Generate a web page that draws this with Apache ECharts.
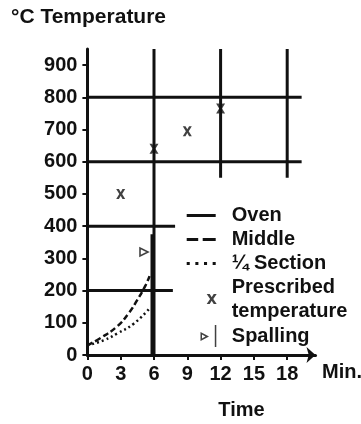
<!DOCTYPE html>
<html>
<head>
<meta charset="utf-8">
<script src="https://cdn.jsdelivr.net/npm/echarts@6/dist/echarts.min.js"></script>
<style>
  html, body { margin: 0; padding: 0; background: #fff; }
  #chart { width: 361px; height: 424px; }
</style>
</head>
<body>
<div id="chart"></div>
<script>
// Tick labels
const timeTicks = [0, 3, 6, 9, 12, 15, 18];
const tempTicks = [0, 100, 200, 300, 400, 500, 600, 700, 800, 900];

// Oven: vertical rise at ~6 min
const ovenTime = [5.82, 5.82];
const ovenTemp = [0, 375];

// Middle of the specimen (dashed)
const middleTime = [0, 1.15, 2.65, 3.7, 4.5, 5.25, 5.6];
const middleTemp = [30, 52, 88, 129, 171, 217, 245];

// Quarter section (dotted)
const quarterTime = [0, 1.5, 2.7, 4.2, 5.6];
const quarterTemp = [30, 46, 67, 98, 145];

// Prescribed temperature markers
const prescribedTime = [3, 6, 9, 12];
const prescribedTemp = [500, 640, 695, 765];

// Spalling event
const spallTime = [5.1];
const spallTemp = [320];

// Reference grid segments: [level, from, to]
const hRules = [[800, 0, 19.3], [600, 0, 19.3], [400, 0, 7.9], [200, 0, 7.7]];
const vRules = [[6, 0, 950], [12, 550, 950], [18, 550, 950]];

const INK = '#111';
const FONT = 'Liberation Sans';
const textBase = { fontFamily: FONT, fontWeight: 'bold', color: INK, fontSize: 20 };

const crossPath = 'path://M0,0 L3,0 L5,3.2 L7,0 L10,0 L6.6,5 L10,10 L7,10 L5,6.8 L3,10 L0,10 L3.4,5 Z';
// Hollow right-pointing triangle followed by a thin bar
const spallIcon = 'path://M0,7 L8.5,11.5 L0,16 Z M1.5,9.6 L1.5,13.4 L5,11.5 Z M14.3,0 L15.8,0 L15.8,22 L14.3,22 Z';
// Legend line samples: solid, dashed, dotted
const solidIcon = 'path://M0,0 L29,0 L29,3 L0,3 Z';
const dashIcon = 'path://M0,0 L11.5,0 L11.5,3 L0,3 Z M16,0 L29,0 L29,3 L16,3 Z';
const dotIcon = 'path://M0,0 L3,0 L3,3 L0,3 Z M8.5,0 L11.5,0 L11.5,3 L8.5,3 Z M17,0 L20,0 L20,3 L17,3 Z M25.5,0 L28.5,0 L28.5,3 L25.5,3 Z';

const ruleSeries = [];
hRules.forEach(([v, a, b]) => ruleSeries.push({
  type: 'line', silent: true, symbol: 'none', z: 1,
  lineStyle: { color: INK, width: 3 },
  data: [[a, v], [b, v]]
}));
vRules.forEach(([t, a, b]) => ruleSeries.push({
  type: 'line', silent: true, symbol: 'none', z: 1,
  lineStyle: { color: INK, width: 3 },
  data: [[t, a], [t, b]]
}));

const zip = (xs, ys) => xs.map((x, i) => [x, ys[i]]);

const chart = echarts.init(document.getElementById('chart'), null, { renderer: 'canvas' });
chart.setOption({
  animation: false,
  backgroundColor: '#fff',
  title: [
    { text: '°C Temperature', left: 11, top: 7, padding: 0,
      textStyle: Object.assign({}, textBase, { fontSize: 21 }) },
    { text: 'Min.', left: 322, top: 362, padding: 0, textStyle: textBase }
  ],
  grid: { left: 87.4, right: 45.5, top: 49, bottom: 69, containLabel: false, outerBoundsMode: 'none' },
  xAxis: {
    type: 'value', min: 0, max: 20.55,
    name: 'Time', nameLocation: 'middle', nameGap: 45,
    nameTextStyle: Object.assign({}, textBase, { padding: [0, 0, 0, 80] }),
    axisLine: { show: true, symbol: ['none', 'arrow'], symbolSize: [12, 9],
      lineStyle: { color: INK, width: 3 } },
    axisTick: { show: true, length: 5, customValues: timeTicks, lineStyle: { color: INK, width: 2 } },
    axisLabel: Object.assign({ customValues: timeTicks, margin: 9 }, textBase),
    splitLine: { show: false }
  },
  yAxis: {
    type: 'value', min: 0, max: 950,
    axisLine: { show: true, lineStyle: { color: INK, width: 3 } },
    axisTick: { show: true, length: 5, customValues: tempTicks, lineStyle: { color: INK, width: 2 } },
    axisLabel: Object.assign({ customValues: tempTicks, margin: 10 }, textBase),
    splitLine: { show: false }
  },
  legend: [
    {
      left: 186.7, top: 203.5, orient: 'vertical', padding: 0, itemGap: 0,
      itemWidth: 29, itemHeight: 10, selectedMode: false,
      textStyle: Object.assign({ lineHeight: 24, padding: [0, 0, 0, 11] }, textBase),
      data: [
        { name: 'Oven', icon: solidIcon, itemStyle: { color: INK } },
        { name: 'Middle', icon: dashIcon, itemStyle: { color: INK } },
        { name: '¼ Section', icon: dotIcon, itemStyle: { color: INK } }
      ]
    },
    {
      left: 206.7, top: 275, orient: 'vertical', padding: 0, itemGap: 0,
      itemWidth: 10, itemHeight: 10, selectedMode: false,
      textStyle: Object.assign({ lineHeight: 24, padding: [0, 0, 0, 10] }, textBase),
      formatter: () => 'Prescribed\ntemperature',
      data: [{ name: 'Prescribed temperature', icon: crossPath, itemStyle: { color: INK } }]
    },
    {
      left: 200.5, top: 324, orient: 'vertical', padding: 0, itemGap: 0,
      itemWidth: 15.8, itemHeight: 22, selectedMode: false,
      textStyle: Object.assign({ lineHeight: 24, padding: [0, 0, 0, 10.5] }, textBase),
      data: [{ name: 'Spalling', icon: spallIcon, itemStyle: { color: INK, borderWidth: 0 } }]
    }
  ],
  series: ruleSeries.concat([
    {
      name: 'Oven', type: 'line', symbol: 'none', z: 3,
      lineStyle: { color: INK, width: 3 },
      itemStyle: { color: INK },
      data: zip(ovenTime, ovenTemp)
    },
    {
      name: 'Middle', type: 'line', symbol: 'none', smooth: true, z: 3,
      lineStyle: { color: INK, width: 2.5, type: [6, 3] },
      itemStyle: { color: INK },
      data: zip(middleTime, middleTemp)
    },
    {
      name: '¼ Section', type: 'line', symbol: 'none', smooth: true, z: 3,
      lineStyle: { color: INK, width: 2.5, type: [2, 3] },
      itemStyle: { color: INK },
      data: zip(quarterTime, quarterTemp)
    },
    {
      name: 'Prescribed temperature', type: 'scatter', z: 4,
      symbol: crossPath, symbolSize: [9, 10],
      itemStyle: { color: INK },
      data: zip(prescribedTime, prescribedTemp)
    },
    {
      name: 'Spalling', type: 'scatter', z: 4,
      symbol: 'triangle', symbolRotate: -90, symbolSize: [8, 8],
      itemStyle: { color: '#fff', borderColor: INK, borderWidth: 1.6 },
      data: zip(spallTime, spallTemp)
    }
  ])
});
</script>
</body>
</html>
